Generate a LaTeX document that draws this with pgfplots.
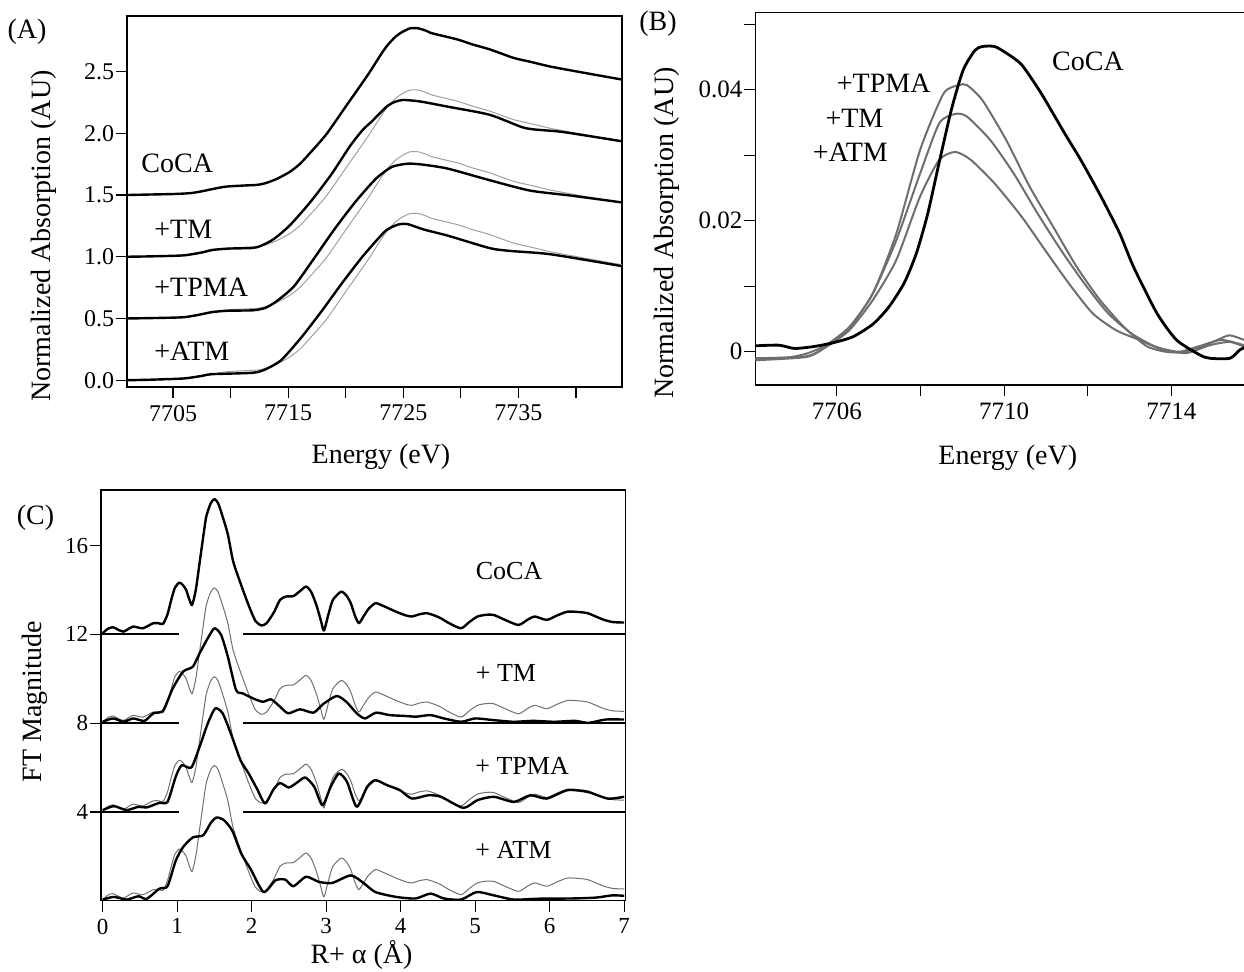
\documentclass[border=0pt]{standalone}
\usepackage{fontspec}
\setmainfont{Liberation Serif}
\usepackage{pgfplots}
\usepackage{pgfplotstable}
\pgfplotsset{compat=1.18}

\definecolor{refgrey}{HTML}{A0A0A0}
\definecolor{midgrey}{HTML}{6E6E6E}
\definecolor{ftgrey}{HTML}{707070}

% ---------- panel A: XANES, values relative to each offset ----------
\pgfplotstableread{
x y
7701 0.000
7703 0.004
7705 0.008
7706.5 0.015
7707.5 0.030
7708.4 0.048
7709.6 0.068
7711.2 0.077
7712.3 0.082
7713.0 0.095
7714.0 0.130
7715.1 0.185
7716.0 0.250
7716.8 0.330
7718.3 0.490
7720.1 0.730
7721.9 0.970
7723.0 1.130
7723.6 1.210
7724.3 1.280
7724.9 1.320
7725.6 1.350
7726.3 1.350
7727.0 1.330
7727.5 1.310
7729.7 1.260
7731.0 1.220
7732.5 1.180
7734.6 1.110
7736.0 1.080
7737.8 1.040
7740.7 0.990
7744 0.935
}\Acoca

\pgfplotstableread{
x y
7701 0.000
7703 0.003
7705.9 0.011
7707.5 0.035
7708.4 0.055
7709.8 0.066
7711.9 0.071
7712.6 0.087
7713.7 0.140
7715.1 0.250
7716.9 0.440
7718.7 0.660
7720.4 0.900
7721.5 1.030
7722.2 1.090
7723.6 1.220
7724.3 1.255
7725.0 1.270
7726.5 1.257
7728.9 1.215
7732.5 1.150
7735.3 1.050
7736.5 1.030
7738.9 1.010
7744 0.935
}\Atm

\pgfplotstableread{
x y
7701 0.000
7703 0.003
7705.9 0.010
7707.5 0.035
7708.4 0.052
7709.8 0.063
7711.9 0.066
7713.0 0.085
7714.0 0.140
7715.5 0.260
7717.2 0.480
7719.0 0.720
7720.8 0.940
7722.6 1.130
7724.0 1.227
7725.4 1.254
7726.8 1.245
7728.9 1.213
7732.5 1.120
7736.0 1.036
7739.6 0.995
7744 0.940
}\Atpma

\pgfplotstableread{
x y
7701 0.000
7703 0.004
7705.9 0.014
7707.5 0.035
7708.4 0.049
7711.9 0.060
7713.0 0.087
7714.4 0.163
7716.2 0.353
7718.0 0.571
7719.7 0.789
7721.5 1.006
7723.3 1.196
7724.0 1.240
7724.7 1.264
7725.4 1.264
7726.8 1.220
7728.9 1.170
7732.5 1.070
7734.3 1.047
7737.8 1.020
7744 0.924
}\Aatm

% ---------- panel B: pre-edge ----------
\pgfplotstableread{
x y
7704.05 0.0009
7704.61 0.0010
7704.99 0.0005
7705.46 0.0008
7705.93 0.0014
7706.39 0.0023
7706.86 0.0042
7707.24 0.0068
7707.61 0.0105
7707.90 0.0150
7708.17 0.0210
7708.45 0.0290
7708.74 0.0370
7709.02 0.0430
7709.30 0.0460
7709.48 0.0466
7709.77 0.0466
7710.05 0.0456
7710.42 0.0438
7710.89 0.0394
7711.45 0.0333
7711.83 0.0293
7712.29 0.0240
7712.76 0.0181
7713.09 0.0130
7713.65 0.0059
7714.12 0.0018
7714.68 -0.0005
7714.92 -0.0010
7715.40 -0.0010
7715.64 0.0003
7715.90 0.0010
}\Bcoca

\pgfplotstableread{
x y
7704.05 -0.0010
7704.80 -0.0009
7705.27 -0.0003
7705.74 0.0010
7706.30 0.0038
7706.86 0.0089
7707.42 0.0180
7707.99 0.0308
7708.55 0.0394
7708.92 0.0407
7709.11 0.0407
7709.48 0.0384
7710.05 0.0323
7710.61 0.0252
7711.17 0.0191
7711.73 0.0130
7712.29 0.0079
7712.86 0.0038
7713.42 0.0008
7713.98 -0.0001
7714.54 0.0003
7715.10 0.0018
7715.39 0.0025
7715.74 0.0018
7716.00 0.0012
}\Btpma

\pgfplotstableread{
x y
7704.05 -0.0010
7705.27 -0.0007
7705.74 0.0008
7706.30 0.0036
7706.86 0.0089
7707.42 0.0170
7707.99 0.0272
7708.45 0.0349
7708.83 0.0363
7709.11 0.0359
7709.67 0.0323
7710.23 0.0272
7710.80 0.0211
7711.36 0.0155
7711.92 0.0104
7712.48 0.0059
7713.04 0.0028
7713.61 0.0008
7714.17 0.0000
7714.64 0.0008
7715.20 0.0018
7715.74 0.0010
7716.00 0.0008
}\Btm

\pgfplotstableread{
x y
7704.05 -0.0013
7705.27 -0.0008
7705.74 0.0007
7706.30 0.0033
7706.86 0.0079
7707.42 0.0140
7707.99 0.0237
7708.45 0.0293
7708.83 0.0305
7709.20 0.0293
7709.77 0.0257
7710.42 0.0206
7710.98 0.0155
7711.55 0.0104
7712.11 0.0059
7712.67 0.0033
7713.23 0.0018
7713.79 0.0003
7714.36 -0.0002
7714.92 0.0010
7715.39 0.0015
7715.74 0.0008
7716.00 0.0005
}\Batm

% ---------- panel C: FT magnitude ----------
\pgfplotstableread{
x y
0.00 12.05
0.07 12.25
0.14 12.32
0.21 12.20
0.28 12.12
0.35 12.25
0.41 12.35
0.48 12.30
0.54 12.27
0.61 12.38
0.68 12.50
0.75 12.50
0.81 12.47
0.87 12.90
0.92 13.55
0.97 14.10
1.03 14.33
1.08 14.20
1.12 14.00
1.16 13.60
1.20 13.32
1.25 14.00
1.30 15.20
1.35 16.40
1.39 17.30
1.45 17.90
1.50 18.09
1.55 17.90
1.61 17.30
1.68 16.50
1.75 15.30
1.85 14.30
1.96 13.30
2.05 12.60
2.13 12.40
2.20 12.50
2.30 13.00
2.38 13.55
2.46 13.70
2.56 13.72
2.65 13.95
2.73 14.15
2.80 13.90
2.87 13.30
2.93 12.60
2.97 12.17
3.03 12.90
3.09 13.55
3.20 13.92
3.27 13.75
3.33 13.40
3.39 12.80
3.44 12.50
3.50 12.80
3.57 13.15
3.66 13.40
3.75 13.30
3.85 13.15
3.95 13.00
4.07 12.85
4.15 12.80
4.25 12.90
4.35 12.95
4.45 12.85
4.54 12.72
4.65 12.50
4.81 12.27
4.92 12.55
5.03 12.80
5.15 12.88
5.25 12.87
5.40 12.65
5.58 12.42
5.70 12.65
5.80 12.80
5.96 12.65
6.10 12.85
6.24 13.02
6.40 13.00
6.51 12.95
6.62 12.80
6.73 12.65
6.85 12.55
7.00 12.53
}\Ccoca

\pgfplotstableread{
x y
0.00 8.06
0.14 8.21
0.28 8.06
0.41 8.21
0.56 8.10
0.68 8.44
0.81 8.56
0.94 9.56
1.08 10.32
1.21 10.54
1.30 11.14
1.41 11.82
1.50 12.27
1.59 11.97
1.68 10.99
1.79 9.49
1.88 9.34
2.02 9.11
2.15 8.96
2.26 9.07
2.38 8.74
2.49 8.44
2.65 8.62
2.83 8.47
2.96 8.86
3.14 9.22
3.27 8.96
3.41 8.44
3.52 8.21
3.67 8.47
3.85 8.36
4.07 8.32
4.21 8.29
4.40 8.36
4.58 8.21
4.81 8.06
5.00 8.21
5.23 8.14
5.51 8.06
5.78 8.10
6.06 8.06
6.34 8.10
6.52 8.01
6.75 8.16
7.00 8.16
}\Ctm

\pgfplotstableread{
x y
0.00 4.08
0.15 4.26
0.32 4.08
0.48 4.23
0.59 4.20
0.76 4.41
0.87 4.45
0.98 5.58
1.06 6.10
1.19 6.00
1.30 6.93
1.41 7.98
1.51 8.66
1.61 8.44
1.72 7.53
1.85 6.33
1.96 5.73
2.07 5.05
2.18 4.38
2.29 5.00
2.38 5.30
2.50 5.10
2.62 5.35
2.72 5.55
2.84 5.13
2.95 4.30
3.06 5.13
3.17 5.73
3.28 5.35
3.41 4.23
3.55 5.13
3.66 5.43
3.82 5.20
3.99 4.98
4.15 4.60
4.37 4.75
4.54 4.68
4.84 4.18
5.03 4.53
5.25 4.68
5.52 4.45
5.74 4.75
5.96 4.60
6.24 4.98
6.51 4.90
6.78 4.60
7.00 4.68
}\Ctpma

\pgfplotstableread{
x y
0.00 0.05
0.15 0.17
0.32 0.05
0.48 0.20
0.59 0.08
0.76 0.54
0.87 0.65
0.98 1.80
1.08 2.42
1.21 2.85
1.35 2.95
1.45 3.50
1.53 3.75
1.63 3.62
1.74 3.15
1.86 2.12
1.99 1.40
2.16 0.39
2.32 0.92
2.45 0.95
2.56 0.65
2.73 1.08
2.90 0.85
3.08 0.80
3.33 1.14
3.50 0.80
3.66 0.39
3.94 0.17
4.20 0.10
4.40 0.32
4.58 0.10
4.81 0.05
5.02 0.39
5.25 0.24
5.52 0.05
5.85 0.09
6.30 0.10
6.62 0.14
6.84 0.24
7.00 0.22
}\Catm

\pgfplotsset{
  panel/.style={
    scale only axis,
    anchor=south west,
    axis line style={line width=0.7pt},
    tick align=outside,
    xtick pos=left, ytick pos=left,
    major tick length=5.5pt,
    tick style={black, line width=0.6pt},
    scaled ticks=false,
    ticklabel style={font=\fontsize{12}{12}\selectfont},
    yticklabel style={inner sep=0.8pt},
  },
  curve/.style={smooth, tension=0.4, line join=round},
}

\newcommand{\lab}{\fontsize{14}{14}\selectfont}

\begin{document}
\begin{tikzpicture}
\path[use as bounding box] (0,0) rectangle (622pt,485.5pt);

% ===== (A) =====
\begin{axis}[panel,
  at={(63.5pt,292pt)}, width=247.5pt, height=185.5pt,
  xmin=7701, xmax=7744, ymin=-0.055, ymax=2.95,
  xtick={7705,7710,...,7740},
  xticklabels={7705,,7715,,7725,,7735,},
  ytick={0,0.5,1,1.5,2,2.5},
  yticklabels={0.0,0.5,1.0,1.5,2.0,2.5},
]
\addplot[curve, refgrey, line width=0.5pt] table[y expr=\thisrow{y}+1.0] {\Acoca};
\addplot[curve, refgrey, line width=0.5pt] table[y expr=\thisrow{y}+0.5] {\Acoca};
\addplot[curve, refgrey, line width=0.5pt] table[y expr=\thisrow{y}] {\Acoca};
\addplot[curve, black, line width=1.2pt] table[y expr=\thisrow{y}+1.5] {\Acoca};
\addplot[curve, black, line width=1.2pt] table[y expr=\thisrow{y}+1.0] {\Atm};
\addplot[curve, black, line width=1.2pt] table[y expr=\thisrow{y}+0.5] {\Atpma};
\addplot[curve, black, line width=1.2pt] table[y expr=\thisrow{y}] {\Aatm};
\end{axis}

\node[font=\lab] at (13.5pt,469.5pt) {(A)};
\node[font=\lab, anchor=west, inner sep=0pt] at (70.5pt,404pt) {CoCA};
\node[font=\lab, anchor=west, inner sep=0pt] at (77pt,371pt) {+TM};
\node[font=\lab, anchor=west, inner sep=0pt] at (77pt,342pt) {+TPMA};
\node[font=\lab, anchor=west, inner sep=0pt] at (77pt,310pt) {+ATM};
\node[font=\lab, rotate=90] at (22pt,367.5pt) {Normalized Absorption (AU)};
\node[font=\lab] at (190.5pt,257pt) {Energy (eV)};

% ===== (B) =====
\begin{axis}[panel,
  at={(377.65pt,293pt)}, width=246.35pt, height=186.15pt,
  xmin=7704.05, xmax=7715.83, ymin=-0.00508, ymax=0.05176,
  xtick={7706,7708,7710,7712,7714},
  xticklabels={7706,,7710,,7714},
  ytick={0,0.01,0.02,0.03,0.04,0.05},
  yticklabels={0,,0.02,,0.04,},
  ticklabel style={font=\fontsize{12.5}{12.5}\selectfont},
]
\addplot[curve, midgrey, line width=1.0pt] table {\Btpma};
\addplot[curve, midgrey, line width=1.0pt] table {\Btm};
\addplot[curve, midgrey, line width=1.0pt] table {\Batm};
\addplot[curve, black, line width=1.4pt] table {\Bcoca};
\end{axis}

\node[font=\lab] at (329pt,473.5pt) {(B)};
\node[font=\lab] at (544pt,454.65pt) {CoCA};
\node[font=\lab] at (441.85pt,443.85pt) {+TPMA};
\node[font=\lab] at (427.2pt,426.35pt) {+TM};
\node[font=\lab] at (425.2pt,409.15pt) {+ATM};
\node[font=\lab, rotate=90] at (333.5pt,369pt) {Normalized Absorption (AU)};
\node[font=\lab] at (503.9pt,256.5pt) {Energy (eV)};

% ===== (C) =====
\begin{axis}[panel,
  at={(50.6pt,35.15pt)}, width=262.25pt, height=205.35pt,
  xmin=-0.02, xmax=7.02, ymin=0, ymax=18.5,
  xtick={0,1,...,7},
  xticklabels={0,1,2,3,4,5,6,7},
  ytick={4,8,12,16},
  yticklabels={4,8,12,16},
  ticklabel style={font=\fontsize{11.5}{11.5}\selectfont},
]
% baselines with a gap around the first shell
\addplot[black, line width=0.9pt] coordinates {(-0.02,12) (1.03,12)};
\addplot[black, line width=0.9pt] coordinates {(1.88,12) (7.02,12)};
\addplot[black, line width=0.9pt] coordinates {(-0.02,8) (1.03,8)};
\addplot[black, line width=0.9pt] coordinates {(1.88,8) (7.02,8)};
\addplot[black, line width=0.9pt] coordinates {(-0.02,4) (1.03,4)};
\addplot[black, line width=0.9pt] coordinates {(1.88,4) (7.02,4)};
% CoCA reference copies
\addplot[curve, ftgrey, line width=0.5pt] table[y expr=\thisrow{y}-4] {\Ccoca};
\addplot[curve, ftgrey, line width=0.5pt] table[y expr=\thisrow{y}-8] {\Ccoca};
\addplot[curve, ftgrey, line width=0.5pt] table[y expr=\thisrow{y}-12] {\Ccoca};
\addplot[curve, black, line width=1.2pt] table {\Ccoca};
\addplot[curve, black, line width=1.2pt] table {\Ctm};
\addplot[curve, black, line width=1.2pt] table {\Ctpma};
\addplot[curve, black, line width=1.2pt] table {\Catm};
\end{axis}

\node[font=\lab] at (17.75pt,226.5pt) {(C)};
\node[font=\fontsize{13}{13}\selectfont, anchor=west, inner sep=0pt] at (237.75pt,200.15pt) {CoCA};
\node[font=\fontsize{13}{13}\selectfont, anchor=west, inner sep=0pt] at (237.75pt,149pt) {+ TM};
\node[font=\fontsize{13}{13}\selectfont, anchor=west, inner sep=0pt] at (237.5pt,102.5pt) {+ TPMA};
\node[font=\fontsize{13}{13}\selectfont, anchor=west, inner sep=0pt] at (237.5pt,60.5pt) {+ ATM};
\node[font=\lab, rotate=90] at (17.5pt,134.5pt) {FT Magnitude};
\node[font=\lab] at (180.75pt,8pt) {R+ α (Å)};
\end{tikzpicture}
\end{document}
